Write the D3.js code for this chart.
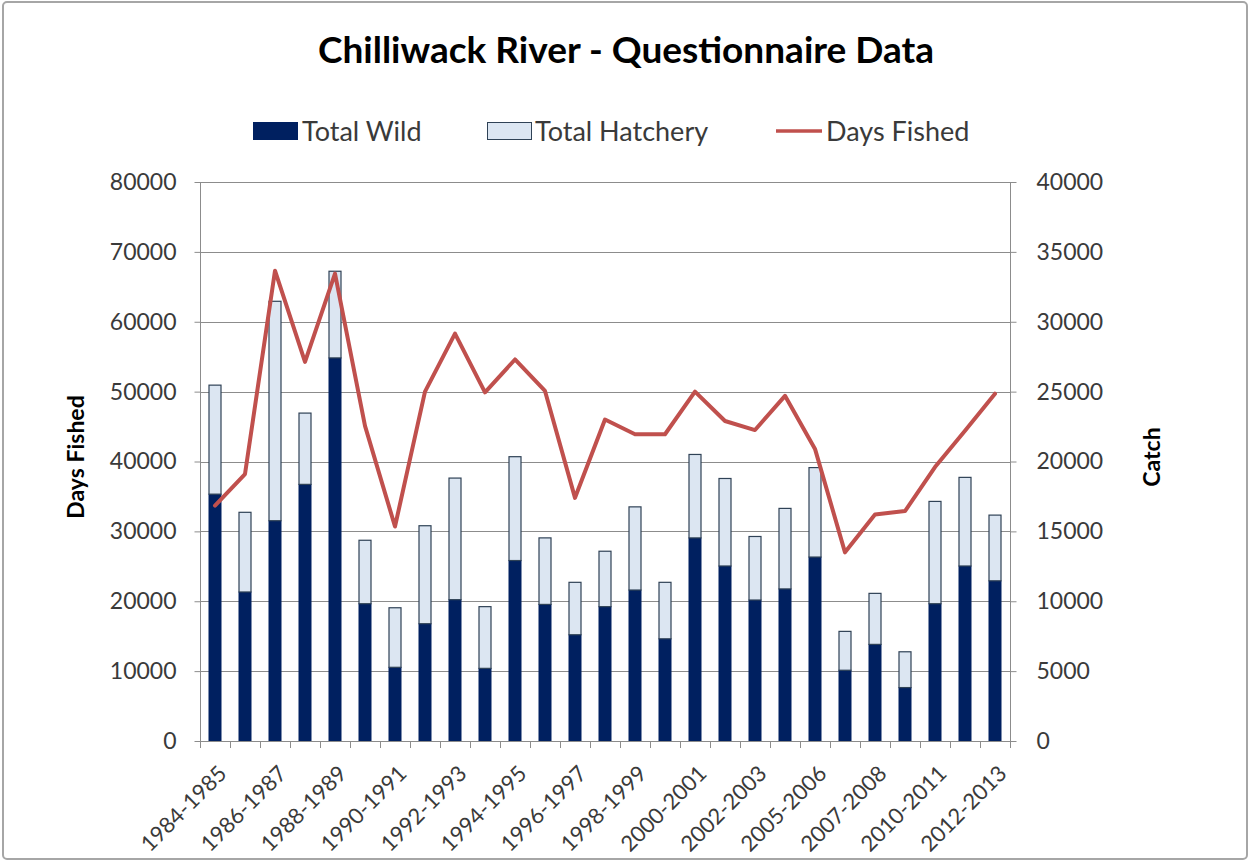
<!DOCTYPE html>
<html>
<head>
<meta charset="utf-8">
<script src="https://cdn.jsdelivr.net/npm/d3@7"></script>
<style>
  html, body { margin: 0; padding: 0; background: #ffffff; }
  svg { display: block; }
  text { font-family: Lato, "Open Sans", sans-serif; }
</style>
</head>
<body>
<svg id="chart" width="1251" height="863"></svg>
<script>
// ---------- data ----------
const categories = [
  "1984-1985","1985-1986","1986-1987","1987-1988","1988-1989","1989-1990",
  "1990-1991","1991-1992","1992-1993","1993-1994","1994-1995","1995-1996",
  "1996-1997","1997-1998","1998-1999","1999-2000","2000-2001","2001-2002",
  "2002-2003","2003-2004","2005-2006","2006-2007","2007-2008","2008-2009",
  "2010-2011","2011-2012","2012-2013"
];
// Catch (right axis)
const totalWild = [
  17700, 10700, 15800, 18400, 27450, 9860, 5310, 8430, 10150, 5235,
  12950, 9810, 7640, 9650, 10840, 7350, 14570, 12560, 10125, 10920,
  13200, 5100, 6950, 3860, 9860, 12560, 11500
];
const totalHatchery = [
  7800, 5700, 15700, 5100, 6200, 4540, 4260, 7010, 8700, 4415,
  7430, 4760, 3750, 3965, 5950, 4040, 5970, 6260, 4545, 5760,
  6400, 2780, 3650, 2560, 7320, 6340, 4700
];
// Days Fished (left axis)
const daysFished = [
  33700, 38200, 67300, 54250, 66900, 45100, 30700, 50000, 58300, 49900,
  54600, 50100, 34800, 46000, 43900, 43900, 50000, 45800, 44500, 49400,
  41800, 27000, 32400, 32900, 39200, 44400, 49700
];
const leftTicks = [0, 10000, 20000, 30000, 40000, 50000, 60000, 70000, 80000];
const rightTicks = [0, 5000, 10000, 15000, 20000, 25000, 30000, 35000, 40000];
const seriesNames = ["Total Wild", "Total Hatchery", "Days Fished"];
const titleText = "Chilliwack River - Questionnaire Data";

// ---------- layout ----------
const W = 1251, H = 863;
const plot = { left: 200, right: 1010, top: 182, bottom: 741 };
const colors = { wild: "#002060", hatch: "#dce6f2", hatchStroke: "#2f4256", line: "#c0504d", grid: "#8c8c8c", text: "#3a3a3a" };

const svg = d3.select("#chart");

// chart border
svg.append("rect").attr("x", 3).attr("y", 2).attr("width", W - 7).attr("height", H - 6)
  .attr("rx", 4).attr("fill", "#fff").attr("stroke", "#a6a6a6").attr("stroke-width", 2);

const x = d3.scaleBand().domain(categories).range([plot.left, plot.right]).padding(0);
const yL = d3.scaleLinear().domain([0, 80000]).range([plot.bottom, plot.top]);
const yR = d3.scaleLinear().domain([0, 40000]).range([plot.bottom, plot.top]);
const barW = 13;

// gridlines
svg.append("g").selectAll("line").data(leftTicks.filter(d => d > 0)).join("line")
  .attr("x1", plot.left).attr("x2", plot.right)
  .attr("y1", d => Math.round(yL(d)) + 0.5).attr("y2", d => Math.round(yL(d)) + 0.5)
  .attr("stroke", colors.grid).attr("stroke-width", 1);

// left axis
const axL = svg.append("g").attr("transform", `translate(${plot.left + 0.5},0)`)
  .call(d3.axisLeft(yL).tickValues(leftTicks).tickFormat(d3.format("d")).tickSize(6).tickPadding(18));
// right axis
const axR = svg.append("g").attr("transform", `translate(${plot.right + 0.5},0)`)
  .call(d3.axisRight(yR).tickValues(rightTicks).tickFormat(d3.format("d")).tickSize(6).tickPadding(20));
[axL, axR].forEach(a => {
  a.select(".domain").attr("stroke", colors.grid).attr("d", `M0,${plot.top}V${plot.bottom + 6}`);
  a.selectAll(".tick line").attr("stroke", colors.grid);
  a.selectAll(".tick text").attr("fill", colors.text).style("font-size", "23px").style("font-family", "Lato, sans-serif");
});

// bars: stacked on right axis
const bars = svg.append("g");
bars.selectAll("rect.wild").data(categories).join("rect").attr("class", "wild")
  .attr("x", d => x(d) + x.bandwidth() / 2 - barW / 2)
  .attr("width", barW)
  .attr("y", (d, i) => yR(totalWild[i]))
  .attr("height", (d, i) => yR(0) - yR(totalWild[i]))
  .attr("fill", colors.wild);
bars.selectAll("rect.hatch").data(categories).join("rect").attr("class", "hatch")
  .attr("x", d => x(d) + x.bandwidth() / 2 - barW / 2 + 0.5)
  .attr("width", barW - 1)
  .attr("y", (d, i) => yR(totalWild[i] + totalHatchery[i]) + 0.5)
  .attr("height", (d, i) => yR(totalWild[i]) - yR(totalWild[i] + totalHatchery[i]))
  .attr("fill", colors.hatch).attr("stroke", colors.hatchStroke).attr("stroke-width", 1.2);

// x axis
const xAxisG = svg.append("g");
xAxisG.append("line").attr("x1", plot.left).attr("x2", plot.right)
  .attr("y1", plot.bottom + 0.5).attr("y2", plot.bottom + 0.5).attr("stroke", colors.grid);
const boundaries = categories.map(c => x(c)).concat([plot.right]);
xAxisG.selectAll("line.tk").data(boundaries).join("line").attr("class", "tk")
  .attr("x1", d => Math.round(d) + 0.5).attr("x2", d => Math.round(d) + 0.5)
  .attr("y1", plot.bottom).attr("y2", plot.bottom + 7).attr("stroke", colors.grid);
xAxisG.selectAll("text").data(categories.filter((c, i) => i % 2 === 0)).join("text")
  .attr("transform", d => `translate(${x(d) + x.bandwidth() / 2 + 13},${plot.bottom + 34}) rotate(-45)`)
  .attr("text-anchor", "end")
  .attr("fill", colors.text)
  .style("font-size", "22px")
  .text(d => d);

// line
const line = d3.line().x((d, i) => x(categories[i]) + x.bandwidth() / 2).y(d => yL(d));
svg.append("path").datum(daysFished).attr("d", line)
  .attr("fill", "none").attr("stroke", colors.line).attr("stroke-width", 4)
  .attr("stroke-linejoin", "round").attr("stroke-linecap", "round");

// title
svg.append("text").attr("x", 626).attr("y", 63).attr("text-anchor", "middle")
  .style("font-size", "37px").style("font-weight", "bold").attr("fill", "#000").text(titleText);

// axis titles
svg.append("text").attr("transform", "translate(84,457) rotate(-90)").attr("text-anchor", "middle")
  .style("font-size", "23px").style("font-weight", "bold").attr("fill", "#000").text("Days Fished");
svg.append("text").attr("transform", "translate(1160,457) rotate(-90)").attr("text-anchor", "middle")
  .style("font-size", "23px").style("font-weight", "bold").attr("fill", "#000").text("Catch");

// legend
const lg = svg.append("g");
const legendY = 131;
lg.append("rect").attr("x", 253).attr("y", legendY - 9).attr("width", 45).attr("height", 18).attr("fill", colors.wild);
lg.append("text").attr("x", 302).attr("y", legendY + 10).style("font-size", "27px").attr("fill", colors.text).text(seriesNames[0]);
lg.append("rect").attr("x", 487.5).attr("y", legendY - 8.5).attr("width", 44).attr("height", 17)
  .attr("fill", colors.hatch).attr("stroke", colors.hatchStroke).attr("stroke-width", 1);
lg.append("text").attr("x", 535).attr("y", legendY + 10).style("font-size", "27px").attr("fill", colors.text).text(seriesNames[1]);
lg.append("line").attr("x1", 776).attr("x2", 822).attr("y1", legendY).attr("y2", legendY)
  .attr("stroke", colors.line).attr("stroke-width", 3.5);
lg.append("text").attr("x", 826).attr("y", legendY + 10).style("font-size", "27px").attr("fill", colors.text).text(seriesNames[2]);
</script>
</body>
</html>
